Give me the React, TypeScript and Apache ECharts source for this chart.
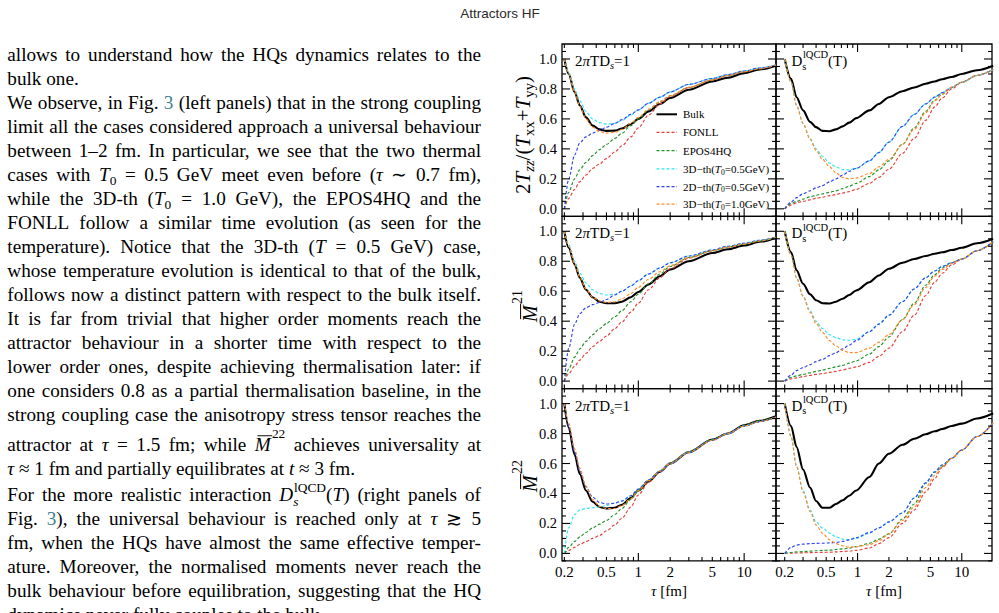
import React, { useEffect, useRef } from 'react';
import * as echarts from 'echarts';

// ---------- series meta ----------
const SERIES_NAMES = ['Bulk', 'FONLL', 'EPOS4HQ', '3D−th(T0=0.5GeV)', '2D−th(T0=0.5GeV)', '3D−th(T0=1.0GeV)'];
const LEGEND_LABELS = ['Bulk', 'FONLL', 'EPOS4HQ', '3D−th({i:T}{sub:0}=0.5GeV)', '2D−th({i:T}{sub:0}=0.5GeV)', '3D−th({i:T}{sub:0}=1.0GeV)'];
const SERIES_COLORS = ['#000000', '#e5413b', '#23922a', '#2fe3f2', '#3344ee', '#ff8b26'];

// ---------- proper time grids [fm] ----------
const TAU_L = [0.2, 0.22, 0.25, 0.28, 0.32, 0.37, 0.43, 0.5, 0.6, 0.7, 0.85, 1, 1.25, 1.6, 2, 3, 5, 7, 10, 14, 20];
const TAU_R = [0.2, 0.23, 0.26, 0.3, 0.35, 0.4, 0.46, 0.54, 0.62, 0.72, 0.83, 0.97, 1.3, 1.6, 2, 2.7, 3.5, 4.5, 5.5, 6.5, 8, 10, 14, 20];

// ---------- 2πTDs = 1 : 2Tzz/(Txx+Tyy) ----------
const L1_BULK = [1.0, 0.90, 0.78, 0.69, 0.61, 0.555, 0.53, 0.52, 0.522, 0.535, 0.565, 0.60, 0.65, 0.70, 0.74, 0.795, 0.85, 0.875, 0.905, 0.93, 0.955];
const L1_FONLL = [0.0, 0.07, 0.13, 0.18, 0.225, 0.27, 0.30, 0.335, 0.38, 0.42, 0.48, 0.54, 0.625, 0.70, 0.75, 0.81, 0.86, 0.89, 0.915, 0.935, 0.96];
const L1_EPOS = [0.0, 0.11, 0.20, 0.26, 0.31, 0.355, 0.395, 0.43, 0.47, 0.505, 0.555, 0.60, 0.66, 0.715, 0.755, 0.81, 0.86, 0.89, 0.915, 0.935, 0.96];
const L1_TH3D05 = [1.0, 0.91, 0.80, 0.72, 0.65, 0.60, 0.575, 0.565, 0.57, 0.59, 0.625, 0.66, 0.705, 0.745, 0.78, 0.83, 0.87, 0.895, 0.92, 0.94, 0.96];
const L1_TH2D05 = [0.0, 0.20, 0.36, 0.44, 0.48, 0.505, 0.525, 0.545, 0.57, 0.595, 0.63, 0.66, 0.705, 0.745, 0.78, 0.83, 0.87, 0.895, 0.92, 0.94, 0.96];
const L1_TH3D10 = [1.0, 0.90, 0.78, 0.685, 0.60, 0.545, 0.515, 0.505, 0.51, 0.53, 0.57, 0.61, 0.665, 0.715, 0.755, 0.81, 0.86, 0.89, 0.915, 0.935, 0.96];

// ---------- 2πTDs = 1 : M21 ----------
const L2_BULK = [1.0, 0.89, 0.78, 0.69, 0.61, 0.56, 0.53, 0.52, 0.52, 0.53, 0.56, 0.595, 0.645, 0.70, 0.745, 0.80, 0.855, 0.88, 0.905, 0.93, 0.955];
const L2_FONLL = [0.0, 0.05, 0.10, 0.14, 0.185, 0.23, 0.265, 0.30, 0.35, 0.395, 0.46, 0.52, 0.61, 0.69, 0.75, 0.82, 0.87, 0.895, 0.915, 0.935, 0.96];
const L2_EPOS = [0.0, 0.08, 0.16, 0.215, 0.265, 0.31, 0.35, 0.385, 0.43, 0.47, 0.53, 0.58, 0.65, 0.715, 0.765, 0.825, 0.87, 0.895, 0.915, 0.935, 0.96];
const L2_TH3D05 = [1.0, 0.91, 0.80, 0.72, 0.655, 0.61, 0.585, 0.575, 0.58, 0.60, 0.635, 0.67, 0.715, 0.755, 0.79, 0.835, 0.875, 0.90, 0.92, 0.94, 0.96];
const L2_TH2D05 = [0.0, 0.22, 0.38, 0.45, 0.49, 0.51, 0.525, 0.545, 0.575, 0.60, 0.635, 0.67, 0.715, 0.755, 0.79, 0.835, 0.875, 0.90, 0.92, 0.94, 0.96];
const L2_TH3D10 = [1.0, 0.90, 0.785, 0.695, 0.615, 0.56, 0.535, 0.525, 0.53, 0.55, 0.585, 0.625, 0.68, 0.73, 0.77, 0.825, 0.87, 0.895, 0.915, 0.935, 0.96];

// ---------- 2πTDs = 1 : M22 ----------
const L3_BULK = [1.0, 0.84, 0.66, 0.53, 0.42, 0.345, 0.31, 0.30, 0.305, 0.325, 0.37, 0.42, 0.48, 0.545, 0.60, 0.675, 0.76, 0.80, 0.855, 0.885, 0.915];
const L3_FONLL = [0.0, 0.02, 0.04, 0.06, 0.08, 0.10, 0.12, 0.15, 0.19, 0.235, 0.31, 0.39, 0.475, 0.545, 0.60, 0.675, 0.755, 0.80, 0.85, 0.88, 0.91];
const L3_EPOS = [0.0, 0.04, 0.08, 0.11, 0.14, 0.17, 0.195, 0.22, 0.26, 0.30, 0.36, 0.42, 0.49, 0.55, 0.605, 0.68, 0.76, 0.80, 0.855, 0.885, 0.91];
const L3_TH3D05 = [0.0, 0.17, 0.26, 0.29, 0.30, 0.305, 0.31, 0.32, 0.335, 0.35, 0.385, 0.43, 0.49, 0.55, 0.60, 0.675, 0.755, 0.80, 0.85, 0.88, 0.91];
const L3_TH2D05 = [1.0, 0.85, 0.68, 0.55, 0.445, 0.375, 0.34, 0.33, 0.335, 0.35, 0.385, 0.43, 0.49, 0.55, 0.60, 0.675, 0.755, 0.80, 0.85, 0.88, 0.91];
const L3_TH3D10 = [1.0, 0.87, 0.70, 0.57, 0.45, 0.36, 0.315, 0.30, 0.30, 0.32, 0.365, 0.42, 0.485, 0.55, 0.60, 0.675, 0.755, 0.80, 0.85, 0.88, 0.91];

// ---------- Ds lQCD(T) : 2Tzz/(Txx+Tyy) ----------
const R1_BULK = [1.0, 0.867, 0.745, 0.657, 0.58, 0.545, 0.52, 0.518, 0.53, 0.55, 0.575, 0.605, 0.657, 0.70, 0.745, 0.785, 0.81, 0.835, 0.85, 0.865, 0.88, 0.90, 0.925, 0.955];
const R1_FONLL = [0.0, 0.025, 0.04, 0.05, 0.06, 0.07, 0.078, 0.088, 0.095, 0.105, 0.115, 0.13, 0.17, 0.21, 0.265, 0.37, 0.47, 0.59, 0.68, 0.74, 0.80, 0.845, 0.89, 0.93];
const R1_EPOS = [0.0, 0.035, 0.05, 0.065, 0.08, 0.09, 0.10, 0.11, 0.12, 0.135, 0.15, 0.17, 0.215, 0.26, 0.32, 0.43, 0.54, 0.65, 0.725, 0.765, 0.81, 0.845, 0.89, 0.93];
const R1_TH3D05 = [1.0, 0.845, 0.69, 0.57, 0.47, 0.40, 0.35, 0.305, 0.28, 0.262, 0.26, 0.27, 0.32, 0.375, 0.445, 0.55, 0.63, 0.70, 0.745, 0.775, 0.81, 0.845, 0.89, 0.93];
const R1_TH2D05 = [0.0, 0.045, 0.075, 0.10, 0.12, 0.14, 0.155, 0.18, 0.20, 0.225, 0.25, 0.27, 0.32, 0.375, 0.445, 0.55, 0.63, 0.70, 0.745, 0.775, 0.81, 0.845, 0.89, 0.93];
const R1_TH3D10 = [1.0, 0.845, 0.69, 0.57, 0.465, 0.39, 0.33, 0.28, 0.24, 0.21, 0.20, 0.205, 0.235, 0.28, 0.33, 0.43, 0.53, 0.64, 0.72, 0.765, 0.81, 0.845, 0.89, 0.93];

// ---------- Ds lQCD(T) : M21 ----------
const R2_BULK = [1.0, 0.86, 0.74, 0.65, 0.58, 0.54, 0.52, 0.518, 0.53, 0.55, 0.575, 0.605, 0.66, 0.705, 0.75, 0.79, 0.815, 0.835, 0.85, 0.86, 0.875, 0.89, 0.92, 0.95];
const R2_FONLL = [0.0, 0.015, 0.022, 0.03, 0.038, 0.045, 0.05, 0.058, 0.065, 0.075, 0.085, 0.095, 0.125, 0.165, 0.22, 0.33, 0.44, 0.57, 0.66, 0.72, 0.775, 0.815, 0.87, 0.93];
const R2_EPOS = [0.0, 0.025, 0.035, 0.045, 0.055, 0.065, 0.073, 0.085, 0.095, 0.105, 0.12, 0.135, 0.18, 0.23, 0.295, 0.41, 0.52, 0.64, 0.71, 0.755, 0.79, 0.815, 0.87, 0.93];
const R2_TH3D05 = [1.0, 0.84, 0.69, 0.57, 0.47, 0.40, 0.35, 0.31, 0.29, 0.275, 0.273, 0.28, 0.33, 0.38, 0.44, 0.53, 0.615, 0.69, 0.735, 0.765, 0.79, 0.815, 0.87, 0.93];
const R2_TH2D05 = [0.0, 0.04, 0.07, 0.09, 0.11, 0.13, 0.145, 0.17, 0.19, 0.215, 0.24, 0.27, 0.33, 0.38, 0.44, 0.53, 0.615, 0.69, 0.735, 0.765, 0.79, 0.815, 0.87, 0.93];
const R2_TH3D10 = [1.0, 0.84, 0.69, 0.565, 0.46, 0.385, 0.325, 0.27, 0.235, 0.205, 0.19, 0.19, 0.22, 0.26, 0.31, 0.41, 0.51, 0.625, 0.70, 0.745, 0.785, 0.815, 0.87, 0.93];

// ---------- Ds lQCD(T) : M22 ----------
const R3_BULK = [1.0, 0.85, 0.71, 0.56, 0.44, 0.35, 0.305, 0.305, 0.33, 0.355, 0.385, 0.42, 0.51, 0.60, 0.665, 0.725, 0.765, 0.795, 0.815, 0.83, 0.85, 0.866, 0.90, 0.935];
const R3_FONLL = [0.0, 0.002, 0.003, 0.004, 0.005, 0.006, 0.007, 0.008, 0.01, 0.013, 0.016, 0.02, 0.036, 0.065, 0.105, 0.20, 0.29, 0.41, 0.50, 0.575, 0.635, 0.69, 0.78, 0.87];
const R3_EPOS = [0.0, 0.006, 0.01, 0.012, 0.015, 0.018, 0.02, 0.022, 0.026, 0.03, 0.036, 0.045, 0.068, 0.095, 0.13, 0.23, 0.33, 0.47, 0.54, 0.58, 0.635, 0.69, 0.78, 0.87];
const R3_TH3D05 = [1.0, 0.78, 0.58, 0.42, 0.29, 0.21, 0.17, 0.135, 0.11, 0.095, 0.092, 0.10, 0.135, 0.17, 0.21, 0.27, 0.37, 0.47, 0.545, 0.59, 0.635, 0.69, 0.78, 0.87];
const R3_TH2D05 = [0.0, 0.04, 0.055, 0.062, 0.065, 0.067, 0.068, 0.07, 0.073, 0.08, 0.09, 0.105, 0.14, 0.17, 0.21, 0.27, 0.37, 0.47, 0.545, 0.59, 0.635, 0.69, 0.78, 0.87];
const R3_TH3D10 = [1.0, 0.78, 0.58, 0.41, 0.28, 0.19, 0.135, 0.09, 0.065, 0.05, 0.042, 0.045, 0.058, 0.085, 0.13, 0.22, 0.31, 0.44, 0.52, 0.58, 0.635, 0.69, 0.78, 0.87];

// ---------- axis ticks ----------
const Y_MAJOR = [0, 0.2, 0.4, 0.6, 0.8, 1.0];
const Y_MINOR = [-0.05, 0.05, 0.1, 0.15, 0.25, 0.3, 0.35, 0.45, 0.5, 0.55, 0.65, 0.7, 0.75, 0.85, 0.9, 0.95, 1.05];
const X_MAJOR = [1, 10];
const X_MINOR = [0.2, 0.3, 0.4, 0.5, 0.6, 0.7, 0.8, 0.9, 2, 3, 4, 5, 6, 7, 8, 9, 20];
const X_LABELS = [0.2, 0.5, 1, 2, 5, 10];
const Y_TITLES = ['2{i:T}{isub:zz}/({i:T}{sub:xx}+{i:T}{sub:yy})', '{m:M}{hsup:21}', '{m:M}{hsup:22}'];
const PANEL_TAGS = ['2{i:π}TD{isub:s}=1', 'D{ss:s|lQCD}(T)'];

// ---------- body text ----------
const TEXT_LINES = [
  'allows to understand how the HQs dynamics relates to the',
  'bulk one.',
  'We observe, in Fig. {c:3} (left panels) that in the strong coupling',
  'limit all the cases considered approach a universal behaviour',
  'between 1–2 fm. In particular, we see that the two thermal',
  'cases with {i:T}{sub:0} = 0.5 GeV meet even before ({i:τ} ∼ 0.7 fm),',
  'while the 3D-th ({i:T}{sub:0} = 1.0 GeV), the EPOS4HQ and the',
  'FONLL follow a similar time evolution (as seen for the',
  'temperature). Notice that the 3D-th ({i:T} = 0.5 GeV) case,',
  'whose temperature evolution is identical to that of the bulk,',
  'follows now a distinct pattern with respect to the bulk itself.',
  'It is far from trivial that higher order moments reach the',
  'attractor behaviour in a shorter time with respect to the',
  'lower order ones, despite achieving thermalisation later: if',
  'one considers 0.8 as a partial thermalisation baseline, in the',
  'strong coupling case the anisotropy stress tensor reaches the',
  'attractor at {i:τ} = 1.5 fm; while {m:M}{hsup:22} achieves universality at',
  '{i:τ} ≈ 1 fm and partially equilibrates at {i:t} ≈ 3 fm.',
  'For the more realistic interaction {i:D}{iss:s|lQCD}({i:T}) (right panels of',
  'Fig. {c:3}), the universal behaviour is reached only at {i:τ} ≳ 5',
  'fm, when the HQs have almost the same effective temper-',
  'ature. Moreover, the normalised moments never reach the',
  'bulk behaviour before equilibration, suggesting that the HQ',
  'dynamics never fully couples to the bulk.',
];
const PARAGRAPH_ENDS = [1, 17, 23];
const LINE_BASES = [61.5, 85.5, 109.5, 133.5, 157.5, 181.5, 205.5, 229.5, 253.5, 277.5, 301.5, 325.5, 349.5, 373.5, 397.5, 421.5, 451.5, 475.5, 501.5, 525.5, 549.5, 573.5, 597.5, 621.5];

// ---------- layout ----------
const COL_LEFT = [562, 776];
const COL_WIDTH = [214, 216];
const ROW_TOP = [44, 216.3, 388.6];
const ROW_H = 172.3;
const X_RANGE = [[0.19, 20], [0.165, 19.5]];
const Y_MIN = -0.05;
const Y_MAX = 1.1;

const SERIF = '"Liberation Serif", "Times New Roman", serif';
const TEXT_FILL = '#000000';
const LINK_FILL = '#3b7f8c';

let measureCtx: CanvasRenderingContext2D | null = null;
function fontStr(size: number, italic: boolean) {
  return `${italic ? 'italic ' : ''}${size}px ${SERIF}`;
}
function textWidth(t: string, size: number, italic: boolean) {
  if (!measureCtx) measureCtx = document.createElement('canvas').getContext('2d');
  measureCtx!.font = fontStr(size, italic);
  return measureCtx!.measureText(t).width;
}

type Seg = { t: string; k: string };
function parseWord(w: string): Seg[] {
  const out: Seg[] = [];
  const re = /\{(\w+):([^}]*)\}|([^{]+)/g;
  let m: RegExpExecArray | null;
  while ((m = re.exec(w))) {
    if (m[3] !== undefined) out.push({ t: m[3], k: 'r' });
    else out.push({ t: m[2], k: m[1] });
  }
  return out;
}

// lays out a run of segments on an alphabetic baseline; returns the end x
function drawSegs(segs: Seg[], x0: number, base: number, size: number, fill: string, out: any[] | null): number {
  let x = x0;
  const small = size * 0.7;
  const put = (text: string, xx: number, b: number, sz: number, it: boolean, col: string) => {
    if (out) {
      out.push({
        type: 'text', x: xx, y: b - 0.34 * sz, silent: true,
        style: { text, font: fontStr(sz, it), fill: col, align: 'left', verticalAlign: 'middle', textAlign: 'left', textVerticalAlign: 'middle' },
      });
    }
    return textWidth(text, sz, it);
  };
  for (const s of segs) {
    switch (s.k) {
      case 'r': x += put(s.t, x, base, size, false, fill); break;
      case 'i': x += put(s.t, x, base, size, true, fill); break;
      case 'c': x += put(s.t, x, base, size, false, LINK_FILL); break;
      case 'sub': x += put(s.t, x, base + 0.2 * size, small, false, fill); break;
      case 'isub': x += put(s.t, x, base + 0.2 * size, small, true, fill); break;
      case 'sup': x += put(s.t, x + 0.04 * size, base - 0.42 * size, small, false, fill) + 0.04 * size; break;
      case 'hsup': x += put(s.t, x + 0.06 * size, base - 0.72 * size, small, false, fill) + 0.06 * size; break;
      case 'm': {
        const w = put(s.t, x, base, size, true, fill);
        if (out) {
          out.push({
            type: 'line', silent: true,
            shape: { x1: x + 0.14 * size, y1: base - 0.82 * size, x2: x + w + 0.08 * size, y2: base - 0.82 * size },
            style: { stroke: fill, lineWidth: Math.max(0.9, size * 0.05) },
          });
        }
        x += w;
        break;
      }
      case 'ss':
      case 'iss': {
        const [a, b] = s.t.split('|');
        const w1 = put(a, x, base + 0.25 * size, small, s.k === 'iss', fill);
        const w2 = put(b, x + 0.04 * size, base - 0.5 * size, small, false, fill) + 0.04 * size;
        x += Math.max(w1, w2);
        break;
      }
      default: x += put(s.t, x, base, size, false, fill);
    }
  }
  return x;
}

function phraseWidth(text: string, size: number) {
  const words = text.split(' ');
  let w = 0;
  words.forEach((wd, i) => {
    w += drawSegs(parseWord(wd), 0, 0, size, TEXT_FILL, null);
    if (i < words.length - 1) w += textWidth(' ', size, false);
  });
  return w;
}
function drawPhrase(text: string, x0: number, base: number, size: number, fill: string, out: any[]) {
  const words = text.split(' ');
  let x = x0;
  words.forEach((wd, i) => {
    x = drawSegs(parseWord(wd), x, base, size, fill, out);
    if (i < words.length - 1) x += textWidth(' ', size, false);
  });
  return x;
}

function buildParagraph(out: any[]) {
  const L = 7.3;
  const R = 481;
  const size = 19.2;
  TEXT_LINES.forEach((line, li) => {
    const words = line.split(' ').map(parseWord);
    const widths = words.map((w) => drawSegs(w, 0, 0, size, TEXT_FILL, null));
    const total = widths.reduce((a, b) => a + b, 0);
    const last = PARAGRAPH_ENDS.includes(li);
    const gap = last || words.length < 2 ? textWidth(' ', size, false) : (R - L - total) / (words.length - 1);
    let x = L;
    words.forEach((w, i) => {
      drawSegs(w, x, LINE_BASES[li], size, TEXT_FILL, out);
      x += widths[i] + gap;
    });
  });
}

function buildAnnotations(out: any[]) {
  // page header
  out.push({
    type: 'text', x: 500, y: 13, silent: true,
    style: { text: 'Attractors HF', font: '13.5px "Liberation Sans", Arial, sans-serif', fill: '#2a2a2a', align: 'center', verticalAlign: 'middle', textAlign: 'center', textVerticalAlign: 'middle' },
  });
  // panel tags
  for (let r = 0; r < 3; r++) {
    drawPhrase(PANEL_TAGS[0], 575, ROW_TOP[r] + 22, 15, TEXT_FILL, out);
    drawPhrase(PANEL_TAGS[1], 791.5, ROW_TOP[r] + 22, 15, TEXT_FILL, out);
  }
  // x titles
  for (let c = 0; c < 2; c++) {
    const cx = COL_LEFT[c] + COL_WIDTH[c] / 2;
    const w = phraseWidth('{i:τ} [fm]', 15);
    drawPhrase('{i:τ} [fm]', cx - w / 2, 596, 15, TEXT_FILL, out);
  }
  // y titles (rotated, reading upwards)
  const titleAnchors = [[530, 135], [537, 306], [537, 476]];
  const titleSizes = [21, 20, 20];
  Y_TITLES.forEach((t, r) => {
    const size = titleSizes[r];
    const children: any[] = [];
    const w = phraseWidth(t, size);
    drawPhrase(t, -w / 2, 0, size, TEXT_FILL, children);
    out.push({ type: 'group', x: titleAnchors[r][0], y: titleAnchors[r][1], rotation: Math.PI / 2, silent: true, children });
  });
  // legend
  const legendY = [114.3, 132.3, 150.6, 168.8, 186.6, 204.2];
  SERIES_NAMES.forEach((_, i) => {
    const y = legendY[i];
    out.push({
      type: 'line', silent: true,
      shape: { x1: 656.5, y1: y, x2: 677, y2: y },
      style: { stroke: SERIES_COLORS[i], lineWidth: i === 0 ? 2 : 1.2, lineDash: i === 0 ? null : [3, 2] },
    });
    drawPhrase(LEGEND_LABELS[i], 683, y + 3.8, 11, TEXT_FILL, out);
  });
}

function frameSeries(g: number, row: number, col: number) {
  return {
    type: 'custom',
    xAxisIndex: g,
    yAxisIndex: g,
    silent: true,
    clip: false,
    z: 10,
    data: [[1, 0.5]],
    renderItem: (params: any, api: any) => {
      const cs = params.coordSys;
      const L = cs.x, R = cs.x + cs.width, T = cs.y, B = cs.y + cs.height;
      const children: any[] = [];
      const ln = (x1: number, y1: number, x2: number, y2: number) =>
        children.push({ type: 'line', shape: { x1, y1, x2, y2 }, style: { stroke: '#000', lineWidth: 1.1 } });
      const yTicks = [...Y_MAJOR.map((v) => [v, 8]), ...Y_MINOR.map((v) => [v, 4])];
      for (const [v, len] of yTicks) {
        const y = api.coord([1, v])[1];
        ln(L, y, L + len, y);
        ln(R, y, R - len, y);
      }
      const xTicks = [...X_MAJOR.map((t) => [t, 8]), ...X_MINOR.map((t) => [t, 4])];
      for (const [t, len] of xTicks) {
        const x = api.coord([t, 0])[0];
        if (x < L + 0.5 || x > R - 0.5) continue;
        ln(x, B, x, B - len);
        ln(x, T, x, T + len);
      }
      if (col === 0) {
        for (const v of Y_MAJOR) {
          const y = api.coord([1, v])[1];
          children.push({
            type: 'text', x: L - 5, y,
            style: { text: v.toFixed(1), font: `14.5px ${SERIF}`, fill: TEXT_FILL, align: 'right', verticalAlign: 'middle', textAlign: 'right', textVerticalAlign: 'middle' },
          });
        }
      }
      if (row === 2) {
        for (const t of X_LABELS) {
          const x = api.coord([t, 0])[0];
          children.push({
            type: 'text', x, y: B + 11,
            style: { text: String(t), font: `15px ${SERIF}`, fill: TEXT_FILL, align: 'center', verticalAlign: 'middle', textAlign: 'center', textVerticalAlign: 'middle' },
          });
        }
      }
      return { type: 'group', children };
    },
  };
}

function buildOption() {
  const panels = [
    { tau: TAU_L, curves: [L1_BULK, L1_FONLL, L1_EPOS, L1_TH3D05, L1_TH2D05, L1_TH3D10] },
    { tau: TAU_R, curves: [R1_BULK, R1_FONLL, R1_EPOS, R1_TH3D05, R1_TH2D05, R1_TH3D10] },
    { tau: TAU_L, curves: [L2_BULK, L2_FONLL, L2_EPOS, L2_TH3D05, L2_TH2D05, L2_TH3D10] },
    { tau: TAU_R, curves: [R2_BULK, R2_FONLL, R2_EPOS, R2_TH3D05, R2_TH2D05, R2_TH3D10] },
    { tau: TAU_L, curves: [L3_BULK, L3_FONLL, L3_EPOS, L3_TH3D05, L3_TH2D05, L3_TH3D10] },
    { tau: TAU_R, curves: [R3_BULK, R3_FONLL, R3_EPOS, R3_TH3D05, R3_TH2D05, R3_TH3D10] },
  ];
  const grid: any[] = [];
  const xAxis: any[] = [];
  const yAxis: any[] = [];
  const series: any[] = [];
  panels.forEach((p, g) => {
    const row = Math.floor(g / 2);
    const col = g % 2;
    grid.push({
      left: COL_LEFT[col], top: ROW_TOP[row], width: COL_WIDTH[col], height: ROW_H,
      show: true, borderColor: '#000', borderWidth: 1.3, backgroundColor: 'transparent',
      containLabel: false, outerBoundsMode: 'none',
    });
    xAxis.push({
      type: 'log', logBase: 10, gridIndex: g, min: X_RANGE[col][0], max: X_RANGE[col][1],
      axisLine: { show: false }, axisTick: { show: false }, axisLabel: { show: false },
      splitLine: { show: false }, minorTick: { show: false },
    });
    yAxis.push({
      type: 'value', gridIndex: g, min: Y_MIN, max: Y_MAX,
      axisLine: { show: false }, axisTick: { show: false }, axisLabel: { show: false }, splitLine: { show: false },
    });
    p.curves.forEach((vals, i) => {
      series.push({
        type: 'line',
        name: SERIES_NAMES[i],
        xAxisIndex: g,
        yAxisIndex: g,
        data: p.tau.map((t, k) => [t, vals[k]]),
        showSymbol: false,
        symbol: 'none',
        smooth: 0.3,
        smoothMonotone: 'x',
        silent: true,
        clip: true,
        z: 2 + i,
        lineStyle: { color: SERIES_COLORS[i], width: i === 0 ? 2.1 : 1.15, type: i === 0 ? 'solid' : [3, 2] },
      });
    });
    series.push(frameSeries(g, row, col));
  });
  const elements: any[] = [];
  buildParagraph(elements);
  buildAnnotations(elements);
  return {
    animation: false,
    backgroundColor: '#ffffff',
    tooltip: { show: false },
    grid, xAxis, yAxis, series,
    graphic: { elements },
  };
}

export default function App() {
  const ref = useRef<HTMLDivElement>(null);
  useEffect(() => {
    const el = ref.current;
    if (!el) return;
    document.body.style.margin = '0';
    const chart = echarts.init(el, undefined, { renderer: 'svg' });
    chart.setOption(buildOption());
    return () => chart.dispose();
  }, []);
  return <div ref={ref} style={{ width: 999, height: 613, background: '#fff' }} />;
}
